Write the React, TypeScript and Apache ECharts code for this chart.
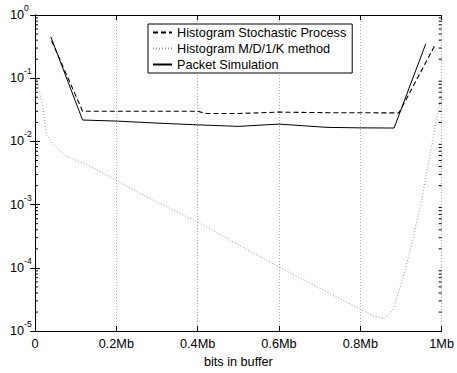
import React, { useEffect, useRef } from "react";
import * as echarts from "echarts";

const FONT = "Liberation Sans, Arial, Helvetica, sans-serif";

const xTickLabels = ["0", "0.2Mb", "0.4Mb", "0.6Mb", "0.8Mb", "1Mb"];
const yExponents = [0, -1, -2, -3, -4, -5];

const stochX = [0.041, 0.117, 0.2, 0.3, 0.4, 0.42, 0.5, 0.6, 0.72, 0.8, 0.895, 0.983];
const stochY = [0.39, 0.0301, 0.0301, 0.0301, 0.0301, 0.0276, 0.0276, 0.0291, 0.0285, 0.0284, 0.0283, 0.329];

const md1kX = [0.004, 0.02, 0.028, 0.044, 0.078, 0.134, 0.2, 0.28, 0.401, 0.506, 0.6, 0.718, 0.8, 0.831, 0.859, 0.881, 0.905, 0.925, 0.949, 0.969, 0.992, 1.0];
const md1kY = [0.098, 0.0331, 0.0129, 0.00914, 0.0058, 0.0041, 0.00244, 0.00127, 0.000527, 0.000221, 0.000103, 0.0000416, 0.0000222, 0.0000174, 0.0000157, 0.0000222, 0.00007, 0.000221, 0.00102, 0.00506, 0.0309, 0.058];

const simX = [0.039, 0.117, 0.2, 0.3, 0.4, 0.5, 0.6, 0.718, 0.8, 0.883, 0.961];
const simY = [0.45, 0.0218, 0.021, 0.0195, 0.0183, 0.0173, 0.0188, 0.0167, 0.0164, 0.0163, 0.352];

const seriesNames = ["Histogram Stochastic Process", "Histogram M/D/1/K method", "Packet Simulation"];

const minorTickValues: number[] = [];
for (let k = -5; k < 0; k++) {
  for (let m = 2; m <= 9; m++) minorTickValues.push(m * Math.pow(10, k));
}

const zip = (xs: number[], ys: number[]) => xs.map((x, i) => [x, ys[i]]);

export default function App() {
  const ref = useRef<HTMLDivElement>(null);
  useEffect(() => {
    if (!ref.current) return;
    const chart = echarts.init(ref.current, null, { renderer: "svg" });
    const axisLine = { show: true, lineStyle: { color: "#000", width: 1 } };
    const option: any = {
      animation: false,
      backgroundColor: "#fff",
      textStyle: { fontFamily: FONT },
      grid: { left: 35, right: 11, top: 15, bottom: 27, containLabel: false },
      legend: {
        data: seriesNames,
        orient: "vertical",
        left: 148,
        top: 24,
        itemWidth: 19,
        itemHeight: 14,
        itemGap: 3,
        padding: [2, 6, 2, 4],
        borderColor: "#000",
        borderWidth: 1,
        backgroundColor: "#fff",
        selectedMode: false,
        itemStyle: { opacity: 0, borderWidth: 0 },
        textStyle: { fontFamily: FONT, fontSize: 12.7, color: "#000" },
      },
      xAxis: [
        {
          type: "value",
          min: 0,
          max: 1,
          interval: 0.2,
          position: "bottom",
          axisLine,
          axisTick: { show: true, inside: true, length: 5, lineStyle: { color: "#000" } },
          axisLabel: {
            fontFamily: FONT,
            fontSize: 12.7,
            color: "#000",
            margin: 6,
            formatter: (v: number) => xTickLabels[Math.round(v * 5)] ?? "",
          },
          splitLine: { show: true, lineStyle: { color: "#aaa", type: [1, 2], width: 1 } },
          name: "bits in buffer",
          nameLocation: "middle",
          nameGap: 14,
          nameTextStyle: { fontFamily: FONT, fontSize: 12.7, color: "#000" },
        },
        {
          type: "value",
          min: 0,
          max: 1,
          interval: 0.2,
          position: "top",
          axisLine,
          axisTick: { show: true, inside: true, length: 5, lineStyle: { color: "#000" } },
          axisLabel: { show: false },
          splitLine: { show: false },
        },
      ],
      yAxis: [
        {
          type: "log",
          logBase: 10,
          min: 1e-5,
          max: 1,
          position: "left",
          axisLine,
          axisTick: { show: true, inside: true, length: 5, lineStyle: { color: "#000" } },
          axisLabel: {
            fontFamily: FONT,
            color: "#000",
            align: "left",
            margin: 25,
            formatter: (v: number) => {
              const e = Math.round(Math.log10(v));
              if (!yExponents.includes(e)) return "";
              return `{b|10}{s|${e}}`;
            },
            rich: {
              b: { fontFamily: FONT, fontSize: 12.7, color: "#000" },
              s: { fontFamily: FONT, fontSize: 8.5, color: "#000", padding: [0, 0, 14, 0] },
            },
          },
          splitLine: { show: false },
        },
        {
          type: "log",
          logBase: 10,
          min: 1e-5,
          max: 1,
          position: "right",
          axisLine,
          axisTick: { show: true, inside: true, length: 5, lineStyle: { color: "#000" } },
          axisLabel: { show: false },
          splitLine: { show: false },
        },
      ],
      series: [
        {
          name: seriesNames[0],
          type: "line",
          data: zip(stochX, stochY),
          showSymbol: false,
          symbol: "none",
          lineStyle: { color: "#000", width: 1.1, type: [5, 3] },
          itemStyle: { color: "#000" },
          z: 3,
        },
        {
          name: seriesNames[1],
          type: "line",
          data: zip(md1kX, md1kY),
          showSymbol: false,
          symbol: "none",
          lineStyle: { color: "#999", width: 1, type: [1, 2] },
          itemStyle: { color: "#999" },
          z: 2,
        },
        {
          name: seriesNames[2],
          type: "line",
          data: zip(simX, simY),
          showSymbol: false,
          symbol: "none",
          lineStyle: { color: "#000", width: 1, type: "solid" },
          itemStyle: { color: "#000" },
          z: 4,
        },
        {
          type: "custom",
          name: "minorTicks",
          silent: true,
          data: minorTickValues.map((v) => [0, v]),
          encode: { x: 0, y: 1 },
          renderItem: (params: any, api: any) => {
            const v = api.value(1);
            const l = api.coord([0, v]);
            const r = api.coord([1, v]);
            return {
              type: "group",
              children: [
                { type: "line", shape: { x1: l[0], y1: l[1], x2: l[0] + 3, y2: l[1] }, style: { stroke: "#000", lineWidth: 1 } },
                { type: "line", shape: { x1: r[0], y1: r[1], x2: r[0] - 3, y2: r[1] }, style: { stroke: "#000", lineWidth: 1 } },
              ],
            };
          },
          z: 5,
        },
      ],
    };
    chart.setOption(option);
    return () => chart.dispose();
  }, []);
  return <div ref={ref} style={{ position: "fixed", left: 0, top: 0, width: 457, height: 373 }} />;
}
